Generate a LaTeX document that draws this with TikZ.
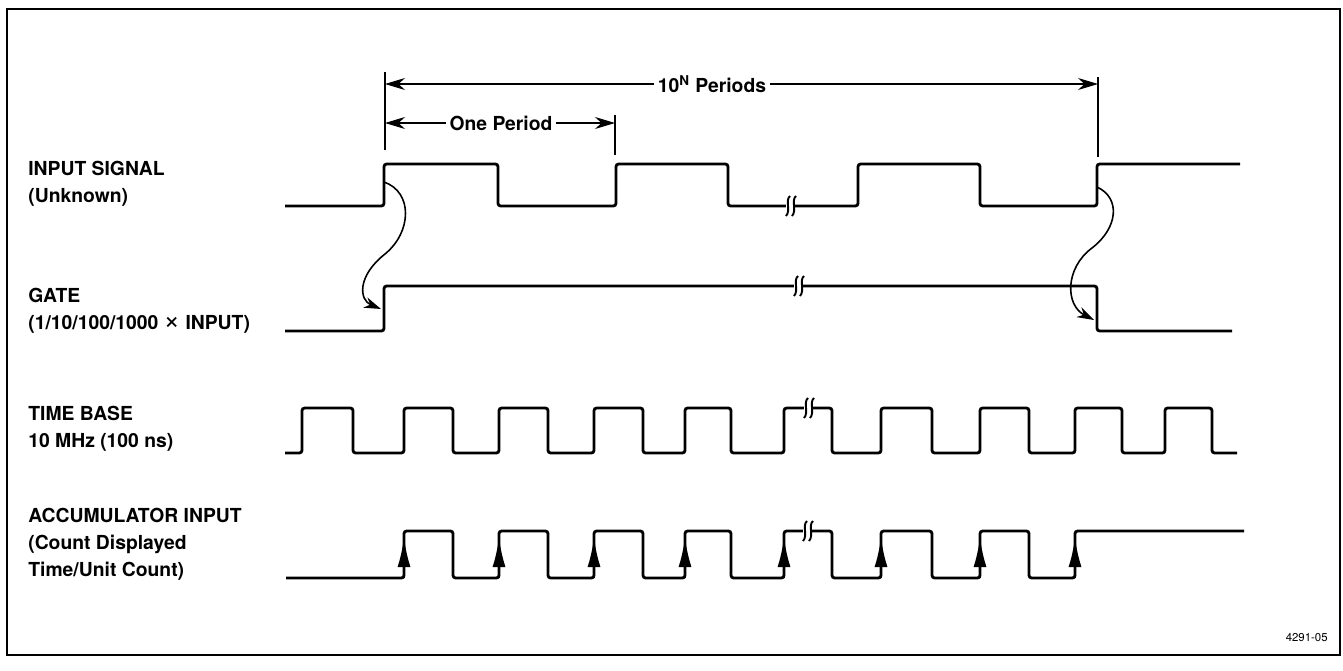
\documentclass[tikz,border=0pt]{standalone}
\usepackage{fontspec}
\setmainfont{TeX Gyre Heros}
\usetikzlibrary{arrows.meta}

\begin{document}
\begin{tikzpicture}[x=0.02cm,y=-0.02cm,
  sig/.style={line width=1.6pt,rounded corners=1.5pt},
  lbl/.style={font=\bfseries\fontsize{11}{15.3}\selectfont,align=left,anchor=west,inner sep=0pt},
  dimlbl/.style={font=\bfseries\fontsize{11}{13}\selectfont,inner sep=2pt},
  dimline/.style={line width=0.6pt,-{Stealth[length=0.4cm,width=0.24cm]}},
  tickln/.style={line width=0.8pt},
  curv/.style={line width=0.9pt,-{Stealth[length=0.34cm,width=0.22cm]}},
  risearr/.style={line width=1.6pt,-{Latex[length=0.6cm,width=0.26cm]}},
  brk/.pic={
    \fill[white] (-4,-3) rectangle (4,3);
    \draw[line width=1.1pt] (0,-10) .. controls (-5,-6) and (1,5) .. (-4,10);
    \draw[line width=1.1pt] (6,-10) .. controls (1,-6) and (7,5) .. (2,10);
  }]

\useasboundingbox (0,0) rectangle (1343,670);

% Frame
\draw[line width=1.3pt] (7,9) rectangle (1340,655);

% Period markers
\coordinate (l0) at (385,72);  \coordinate (l1) at (385,150);
\coordinate (r0) at (1098,77); \coordinate (r1) at (1098,157);
\coordinate (p0) at (615,115); \coordinate (p1) at (615,155);
\draw[tickln] (l0) -- (l1);
\draw[tickln] (r0) -- (r1);
\draw[tickln] (p0) -- (p1);

\coordinate (nL) at (385,84);  \coordinate (nR) at (1098,84);
\coordinate (oL) at (385,123); \coordinate (oR) at (615,123);
\node[dimlbl] (tenN) at (712,84) {10\textsuperscript{N} Periods};
\node[dimlbl] (onep) at (501,123) {One Period};
\draw[dimline] (tenN.west) -- (nL);
\draw[dimline] (tenN.east) -- (nR);
\draw[dimline] (onep.west) -- (oL);
\draw[dimline] (onep.east) -- (oR);

% Labels
\node[lbl] (insig) at (28,184) {INPUT SIGNAL\\(Unknown)};
\node[lbl] (gate) at (28,311) {GATE\\(1/10/100/1000 {\mdseries\fontsize{16}{15.3}\selectfont ×} INPUT)};
\node[lbl] (tbase) at (28,429) {TIME BASE\\10 MHz (100 ns)};
\node[lbl] (accum) at (28,544) {ACCUMULATOR INPUT\\(Count Displayed\\Time/Unit Count)};

% Input signal
\draw[sig] (285,206) -| (384,164) -| (498,206) -| (616,164) -| (728,206)
  -| (858,164) -| (980,206) -| (1097,164) -- (1240,164);

% Gate
\draw[sig] (285,331) -| (384,286) -| (1097,331) -- (1232,331);

% Time base
\draw[sig] (285,453) -| (302,408) -| (353,453) -| (404,408) -| (453,453)
  -| (499,408) -| (548,453) -| (594,408) -| (643,453) -| (685,408)
  -| (731,453) -| (784,408) -| (832,453) -| (881,408) -| (932,453)
  -| (980,408) -| (1029,453) -| (1075,408) -| (1122,453) -| (1165,408)
  -| (1212,453) -- (1237,453);

% Accumulator input
\draw[sig] (286,578) -| (404,531) -| (453,578) -| (499,531) -| (548,578)
  -| (594,531) -| (643,578) -| (685,531) -| (731,578) -| (784,531)
  -| (832,578) -| (881,531) -| (932,578) -| (980,531) -| (1029,578)
  -| (1075,531) -- (1244,531);
\foreach \x in {404,499,594,685,784,881,980,1075}
  \draw[risearr] (\x,578) -- (\x,537);

% Breaks
\pic at (790,206) {brk};
\pic at (798,286) {brk};
\pic at (808,408) {brk};
\pic at (807,531) {brk};

% Gate open / close
\coordinate (inA) at (384,182);  \coordinate (gtA) at (381,309);
\coordinate (inB) at (1097,187); \coordinate (gtB) at (1094,320);
\draw[curv] (inA) .. controls (413,192) and (412,232) .. (385,254)
  .. controls (357,276) and (359,300) .. (gtA);
\draw[curv] (inB) .. controls (1121,198) and (1118,228) .. (1092,248)
  .. controls (1065,268) and (1065,305) .. (gtB);

% Figure number
\node[font=\fontsize{6.5}{7}\selectfont,anchor=east,inner sep=0pt] (fignum) at (1328,638) {4291-05};

\end{tikzpicture}
\end{document}
